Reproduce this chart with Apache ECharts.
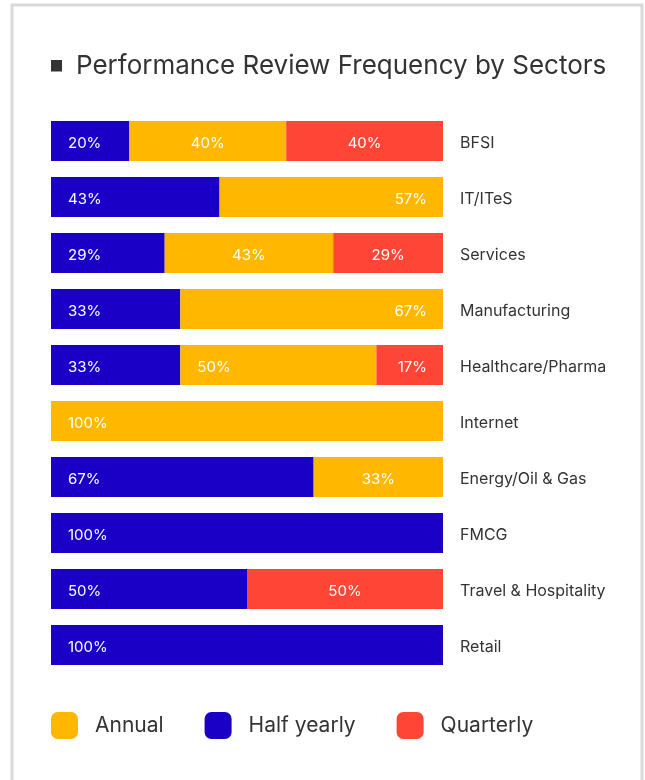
<!DOCTYPE html>
<html>
<head>
<meta charset="utf-8">
<script src="https://cdn.jsdelivr.net/npm/echarts@6/dist/echarts.min.js"></script>
<style>
  html, body { margin: 0; padding: 0; background: #fff; }
  #chart { width: 645px; height: 780px; }
</style>
</head>
<body>
<div id="chart"></div>
<script>
// Sectors, top to bottom
const sectors = ['BFSI', 'IT/ITeS', 'Services', 'Manufacturing', 'Healthcare/Pharma',
  'Internet', 'Energy/Oil & Gas', 'FMCG', 'Travel & Hospitality', 'Retail'];

// Share of companies (%) per review frequency
const halfYearly = [20, 43, 29, 33, 33, 0, 67, 100, 50, 100];
const annual     = [40, 57, 43, 67, 50, 100, 33, 0, 0, 0];
const quarterly  = [40, 0, 29, 0, 17, 0, 0, 0, 50, 0];

const legendNames = ['Annual', 'Half yearly', 'Quarterly'];

// Where each segment's label sits inside its bar
const annualLabelPos    = ['inside', 'insideRight', 'inside', 'insideRight', 'insideLeft',
  'insideLeft', 'inside', 'inside', 'inside', 'inside'];
const quarterlyLabelPos = ['inside', 'inside', 'inside', 'inside', 'insideRight',
  'inside', 'inside', 'inside', 'inside', 'inside'];

const COLORS = { annual: '#FFB700', half: '#1A00C6', quarterly: '#FF4535' };
const FONT = 'Inter, "Noto Sans", sans-serif';

function items(values, positions) {
  return values.map((v, i) => {
    const pos = positions ? positions[i] : 'insideLeft';
    return {
      value: v,
      label: { position: pos, distance: pos === 'inside' ? 5 : (pos === 'insideRight' ? 16 : 17) }
    };
  });
}

const labelStyle = {
  show: true,
  color: '#fff',
  fontSize: 15,
  fontFamily: FONT,
  offset: [0, 2],
  formatter: p => (p.value ? p.value + '%' : '')
};

const chart = echarts.init(document.getElementById('chart'), null, { renderer: 'canvas' });

chart.setOption({
  backgroundColor: '#fff',
  animation: false,
  graphic: [
    {
      type: 'rect',
      shape: { x: 12, y: 5, width: 630, height: 800 },
      style: { fill: 'none', stroke: '#d9d9d9', lineWidth: 3 },
      silent: true
    },
    {
      type: 'rect',
      shape: { x: 51, y: 60, width: 11, height: 11.5 },
      style: { fill: '#333333' },
      silent: true
    },
    {
      type: 'text',
      left: 76,
      top: 53,
      style: {
        text: 'Performance Review Frequency by Sectors',
        font: '26px ' + FONT,
        fill: '#333333'
      },
      silent: true
    }
  ],
  legend: {
    data: legendNames,
    left: 51,
    top: 712,
    padding: 0,
    itemWidth: 27,
    itemHeight: 27,
    itemGap: 41,
    icon: 'roundRect',
    textStyle: { fontSize: 21, color: '#333333', fontFamily: FONT, padding: [0, 0, 0, 12] },
    selectedMode: false
  },
  grid: { left: 51, right: 202, top: 113, height: 560, containLabel: false },
  xAxis: {
    type: 'value',
    min: 0,
    max: 100,
    show: false
  },
  yAxis: {
    type: 'category',
    data: sectors,
    inverse: true,
    position: 'right',
    axisLine: { show: false },
    axisTick: { show: false },
    splitLine: { show: false },
    axisLabel: {
      margin: 17,
      align: 'left',
      formatter: v => '{name|' + v + '}',
      rich: {
        name: {
          fontSize: 16,
          color: '#333333',
          fontFamily: FONT,
          padding: [4, 0, 0, 0]
        }
      }
    }
  },
  series: [
    {
      name: 'Half yearly',
      type: 'bar',
      stack: 'total',
      barWidth: 40,
      clip: true,
      itemStyle: { color: COLORS.half },
      label: labelStyle,
      data: items(halfYearly)
    },
    {
      name: 'Annual',
      type: 'bar',
      stack: 'total',
      barWidth: 40,
      clip: true,
      itemStyle: { color: COLORS.annual },
      label: labelStyle,
      data: items(annual, annualLabelPos)
    },
    {
      name: 'Quarterly',
      type: 'bar',
      stack: 'total',
      barWidth: 40,
      clip: true,
      itemStyle: { color: COLORS.quarterly },
      label: labelStyle,
      data: items(quarterly, quarterlyLabelPos)
    }
  ]
});
</script>
</body>
</html>
